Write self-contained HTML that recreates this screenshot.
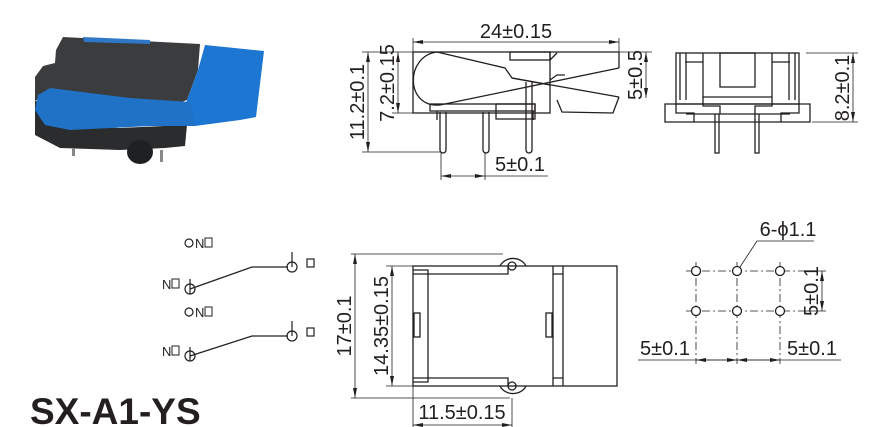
<!DOCTYPE html>
<html><head><meta charset="utf-8"><style>
html,body{margin:0;padding:0;background:#fff;}
svg{display:block}
text{font-family:"Liberation Sans",sans-serif;fill:#231f20}
</style></head><body>
<svg width="879" height="427" viewBox="0 0 879 427" xmlns="http://www.w3.org/2000/svg">
<defs>
<marker id="a" markerWidth="10" markerHeight="6" refX="10" refY="3" orient="auto-start-reverse" markerUnits="userSpaceOnUse"><path d="M0,1 L10,3 L0,5 z" fill="#231f20"/></marker>
</defs>
<!-- photo -->
<g>
<path d="M63,37 L200,44 L198,70 L187,100 L160,110 L60,105 L35,100 L35,77 L43,66 L55,63 L56,50 Z" fill="#3b3c3e"/>
<path d="M83,37 L150,40 L150,44 L84,42 Z" fill="#2f78c8"/>
<path d="M35,100 L35,135 L60,148 L120,150 L165,148 L185,146 L187,125 L120,128 L60,125 Z" fill="#2b2c2e"/>
<ellipse cx="140" cy="152" rx="13" ry="12" fill="#1f2022"/>
<rect x="72" y="148" width="3" height="8" fill="#888"/>
<rect x="160" y="150" width="3" height="12" fill="#888"/>
<path d="M205,45 L264,51 L256,117 L240,120 L195,126 L182,118 L187,100 L198,70 Z" fill="#1c76d2"/>
<path d="M50,88 L130,98 L190,102 L195,126 L150,126 L70,130 L45,125 L35,110 L38,95 Z" fill="#1f72c6"/>
</g>

<g fill="none" stroke="#231f20" stroke-width="1.3">
<rect x="413" y="52" width="137" height="61"/>
<path d="M550,52 H619 V68"/>
<path d="M437,52 C405,56 405,108 440,105"/>
<path d="M437,52 L505,68 L512,78 L550,85"/>
<rect x="510" y="52" width="40" height="8"/>
<path d="M550,60 L557,53"/>
<path d="M440,105 L619,68"/>
<path d="M512,78 L619,97"/>
<path d="M557,100 L562,112 L613,113 L619,97"/>
<path d="M550,80 L557,75 L565,75"/>
<rect x="430" y="104" width="105" height="7"/>
<rect x="496" y="104" width="39" height="15"/>
<path d="M437,111 v9 M533,111 v9"/>
<path d="M440,112 V150 M446,112 V150 M440,150 a3,3 0 0 0 6,0"/>
<path d="M483,112 V150 M489,112 V150 M483,150 a3,3 0 0 0 6,0"/>
<path d="M526,82 V150 M532,82 V150 M526,150 a3,3 0 0 0 6,0"/>
</g>
<g stroke="#231f20" stroke-width="0.8" fill="none">
<line x1="413" y1="42" x2="619" y2="42" marker-start="url(#a)" marker-end="url(#a)"/>
<line x1="413" y1="38" x2="413" y2="52"/><line x1="619" y1="38" x2="619" y2="52"/>
<line x1="368" y1="52" x2="368" y2="152" marker-start="url(#a)" marker-end="url(#a)"/>
<line x1="362" y1="52" x2="413" y2="52"/><line x1="362" y1="152" x2="440" y2="152"/>
<line x1="398" y1="52" x2="398" y2="113" marker-start="url(#a)" marker-end="url(#a)"/>
<line x1="392" y1="113" x2="413" y2="113"/>
<line x1="646" y1="52" x2="646" y2="98" marker-start="url(#a)" marker-end="url(#a)"/>
<line x1="619" y1="52" x2="652" y2="52"/>
<line x1="441" y1="176" x2="485" y2="176" marker-start="url(#a)" marker-end="url(#a)"/>
<line x1="485" y1="176" x2="548" y2="176"/>
<line x1="441" y1="152" x2="441" y2="180"/><line x1="485" y1="152" x2="485" y2="180"/>
</g>
<text x="516" y="38" font-size="20" text-anchor="middle">24±0.15</text>
<text transform="translate(364,102) rotate(-90)" font-size="20" text-anchor="middle">11.2±0.1</text>
<text transform="translate(394,83) rotate(-90)" font-size="20" text-anchor="middle">7.2±0.15</text>
<text transform="translate(642,75) rotate(-90)" font-size="20" text-anchor="middle">5±0.5</text>
<text x="520" y="171" font-size="20" text-anchor="middle">5±0.1</text>

<g fill="none" stroke="#231f20" stroke-width="1.3">
<rect x="676" y="53" width="123" height="51"/>
<path d="M680,53 V100 M686,53 V100 M795,53 V100 M789,53 V100"/>
<path d="M685,62 H703 M790,62 H772"/>
<path d="M703,53 V97 H772 V53"/>
<rect x="720" y="53" width="35" height="34"/>
<path d="M665,104 H810 V122 H665 Z"/>
<path d="M676,104 V113 H694 V122 M799,104 V113 H781 V122"/>
<path d="M703,97 V106 H720 V114 M772,97 V106 H755 V114"/>
<path d="M686,114 H790"/>
<path d="M715,114 V153 H719 V114 M755,114 V153 H759 V114"/>
</g>
<g stroke="#231f20" stroke-width="0.8">
<line x1="853" y1="53" x2="853" y2="122" marker-start="url(#a)" marker-end="url(#a)"/>
<line x1="806" y1="53" x2="858" y2="53"/><line x1="812" y1="122" x2="858" y2="122"/>
</g>
<text transform="translate(849,88) rotate(-90)" font-size="20" text-anchor="middle">8.2±0.1</text>

<g fill="none" stroke="#231f20" stroke-width="1.2">
<circle cx="189" cy="243" r="4"/>
<circle cx="190" cy="289" r="5"/><line x1="190" y1="279" x2="190" y2="294"/>
<path d="M190,289 L252,267 H288"/>
<circle cx="292" cy="267" r="5"/><line x1="292" y1="252" x2="292" y2="267"/>
<rect x="307" y="259" width="7" height="8"/>
<circle cx="189" cy="312" r="4"/>
<circle cx="190" cy="356" r="5"/><line x1="190" y1="347" x2="190" y2="361"/>
<path d="M190,356 L252,336 H288"/>
<circle cx="292" cy="336" r="5"/><line x1="292" y1="321" x2="292" y2="336"/>
<rect x="307" y="328" width="7" height="8"/>
</g>
<text x="195" y="248" font-size="13">N</text><rect x="205" y="238" width="7" height="9" fill="none" stroke="#231f20"/>
<text x="195" y="317" font-size="13">N</text><rect x="205" y="307" width="7" height="9" fill="none" stroke="#231f20"/>
<text x="162" y="289" font-size="13">N</text><rect x="172" y="279" width="7" height="9" fill="none" stroke="#231f20"/>
<text x="162" y="356" font-size="13">N</text><rect x="172" y="346" width="7" height="9" fill="none" stroke="#231f20"/>

<g fill="none" stroke="#231f20" stroke-width="1.3">
<path d="M500,266 a14,12 0 0 1 26,0 M500,386 a14,12 0 0 0 26,0"/>
<circle cx="512" cy="266" r="4"/><circle cx="512" cy="386" r="4"/>
<rect x="413" y="266" width="204" height="120"/>
<path d="M413,270 H428 V382 H413"/>
<path d="M413,274 H508 V266 M413,378 H508 V386"/>
<path d="M553,266 V386 M563,266 V386 M553,274 H563 M553,378 H563"/>
<rect x="414" y="313" width="6" height="24"/><rect x="546" y="313" width="6" height="24"/>
</g>
<g stroke="#231f20" stroke-width="0.8">
<line x1="355" y1="254" x2="355" y2="398" marker-start="url(#a)" marker-end="url(#a)"/>
<line x1="351" y1="254" x2="503" y2="254"/><line x1="351" y1="398" x2="510" y2="398"/>
<line x1="392" y1="266" x2="392" y2="386" marker-start="url(#a)" marker-end="url(#a)"/>
<line x1="386" y1="266" x2="413" y2="266"/><line x1="386" y1="386" x2="413" y2="386"/>
<line x1="413" y1="386" x2="413" y2="427"/><line x1="512" y1="398" x2="512" y2="427"/>
<line x1="413" y1="425" x2="512" y2="425" marker-start="url(#a)" marker-end="url(#a)"/>
</g>
<text transform="translate(351,326) rotate(-90)" font-size="20" text-anchor="middle">17±0.1</text>
<text transform="translate(388,326) rotate(-90)" font-size="20" text-anchor="middle">14.35±0.15</text>
<text x="462" y="419" font-size="20" text-anchor="middle">11.5±0.15</text>

<g stroke="#231f20" stroke-width="0.8" fill="none" stroke-dasharray="8,3,2,3">
<line x1="686" y1="271" x2="800" y2="271"/><line x1="686" y1="311" x2="800" y2="311"/>
<line x1="696" y1="262" x2="696" y2="364"/><line x1="737" y1="262" x2="737" y2="364"/><line x1="780" y1="262" x2="780" y2="364"/>
</g>
<g stroke="#231f20" stroke-width="1.3" fill="#fff">
<circle cx="696" cy="271" r="4.5"/><circle cx="737" cy="271" r="4.5"/><circle cx="780" cy="271" r="4.5"/>
<circle cx="696" cy="311" r="4.5"/><circle cx="737" cy="311" r="4.5"/><circle cx="780" cy="311" r="4.5"/>
</g>
<g stroke="#231f20" stroke-width="0.8" fill="none">
<path d="M740,267 L757,241 H814"/>
<line x1="822" y1="271" x2="822" y2="311" marker-start="url(#a)" marker-end="url(#a)"/>
<line x1="800" y1="271" x2="826" y2="271"/><line x1="800" y1="311" x2="826" y2="311"/>
<line x1="638" y1="360" x2="841" y2="360"/>
<line x1="696" y1="360" x2="737" y2="360" marker-start="url(#a)" marker-end="url(#a)"/>
<line x1="737" y1="360" x2="780" y2="360" marker-start="url(#a)" marker-end="url(#a)"/>
</g>
<text x="788" y="236" font-size="20" text-anchor="middle">6-ϕ1.1</text>
<text transform="translate(818,291) rotate(-90)" font-size="20" text-anchor="middle">5±0.1</text>
<text x="665" y="355" font-size="20" text-anchor="middle">5±0.1</text>
<text x="812" y="355" font-size="20" text-anchor="middle">5±0.1</text>

<text x="30" y="424" font-size="37" font-weight="bold">SX-A1-YS</text>
</svg>
</body></html>
